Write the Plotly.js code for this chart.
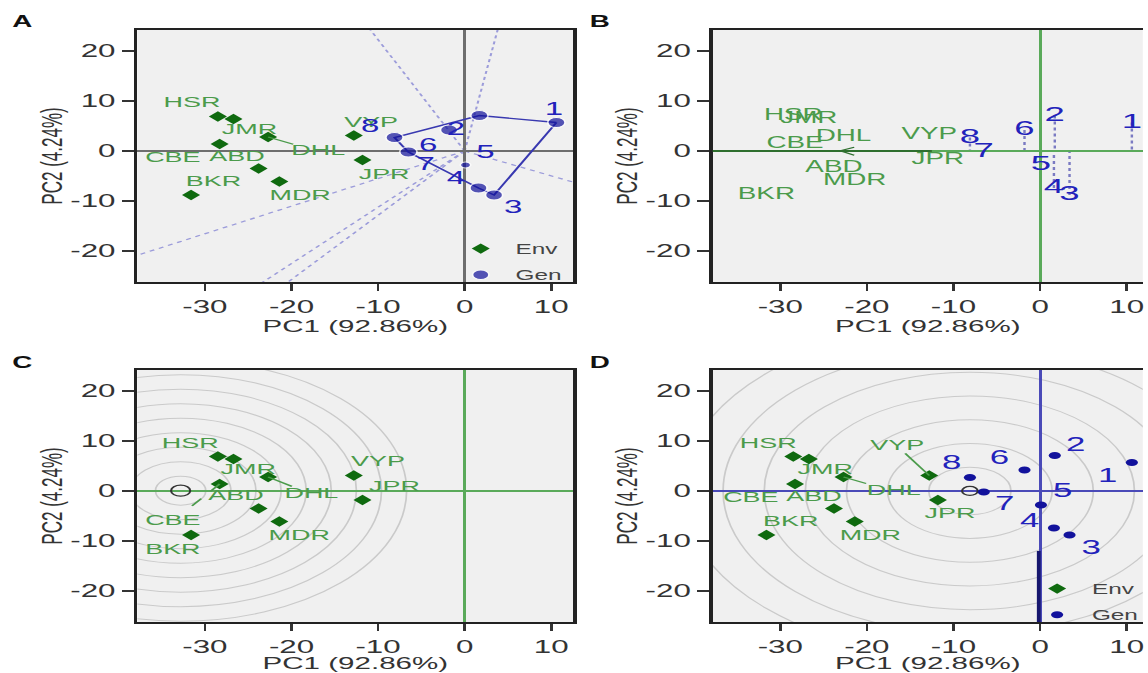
<!DOCTYPE html>
<html><head><meta charset="utf-8">
<script src="https://cdn.plot.ly/plotly-3.0.1.min.js"></script>
<style>
html,body{margin:0;padding:0;background:#fff;overflow:hidden}
#wrap{width:1148px;height:673px;overflow:hidden;position:relative}
#plot{width:660px;height:673px;transform:scaleX(1.739394);transform-origin:0 0}
</style></head>
<body><div id="wrap"><div id="plot"></div></div>
<script>
// ---------------- data ----------------
const envNames = ['HSR','JMR','CBE','DHL','ABD','MDR','BKR','VYP','JPR'];
const envPC1 = [-28.5,-26.7,-28.3,-22.7,-23.8,-21.4,-31.6,-12.8,-11.8];
const envPC2 = [6.9,6.4,1.4,2.8,-3.5,-6.1,-8.8,3.1,-1.8];
const genNames = ['1','2','3','4','5','6','7','8'];
const genPC1 = [10.6,1.7,3.4,1.6,0.1,-1.8,-6.5,-8.1];
const genPC2 = [5.7,7.1,-8.8,-7.4,-2.8,4.2,-0.2,2.7];
const hullOrder = ['1','2','8','7','4','3'];
const xTicks = [-30,-20,-10,0,10];
const xTickText = ['-30','-20','-10','0','10'];
const yTicks = [-20,-10,0,10,20];
const yTickText = ['-20','-10','0','10','20'];
const xTitle = 'PC1 (92.86%)';
const yTitle = 'PC2 (4.24%)';
const panelLetters = ['A','B','C','D'];
const legendNames = ['Env','Gen'];

// ---------------- style ----------------
const FONT = 'Liberation Sans, Arial, Helvetica, sans-serif';
const envMarkerColor = '#0f6a0f';
const envTextColor = '#4b9b4b';
const genMarkerColor = '#12129c';
const genTextColor = '#2222bb';
const FW = 1148, FH = 673;
const px = v => v / FW, py = v => 1 - v / FH;

// label offsets (data units) per panel
const envOffA = [[-3.0,2.6],[1.85,-2.3],[-5.4,-2.9],[5.8,-2.9],[-2.5,2.2],[2.4,-3.0],[2.6,2.5],[2.0,2.4],[2.5,-3.0]];
const genOffA = [[-0.3,2.5],[-2.7,-3.0],[2.2,-2.7],[-2.6,1.8],[2.3,2.3],[-2.4,-3.3],[2.0,-2.6],[-2.8,2.0]];
const envOffC = [[-3.2,2.5],[1.7,-2.3],[-5.4,-7.4],[5.0,-3.4],[-2.6,2.4],[2.3,-3.0],[-2.1,-3.0],[2.8,2.6],[3.7,2.5]];
const envOffD = [[-2.9,2.5],[1.9,-2.3],[-5.1,-2.9],[5.8,-2.9],[-2.3,2.2],[1.8,-3.0],[2.8,2.5],[-3.7,5.9],[1.4,-2.8]];
const genOffD = [[-2.8,-3.0],[2.4,1.9],[2.5,-2.9],[-2.8,1.1],[2.5,2.5],[-2.9,2.1],[2.4,-2.7],[-2.1,2.7]];
const genSizeA = [10,10,10,10,6,10,10,10];

const traces = [], shapes = [], annotations = [];

function addLabels(xa, ya, names, xs, ys, offs, size, color){
  traces.push({type:'scatter', mode:'text', xaxis:xa, yaxis:ya,
    x: xs.map((v,i)=>v + (offs ? offs[i][0] : 0)),
    y: ys.map((v,i)=>v + (offs ? offs[i][1] : 0)),
    text: names, textposition:'middle center',
    textfont:{family:FONT, size:size, color:color},
    cliponaxis:false, showlegend:false, hoverinfo:'skip'});
}
function addMarkers(xa, ya, xs, ys, marker, name, legend){
  const t = {type:'scatter', mode:'markers', xaxis:xa, yaxis:ya, x:xs, y:ys,
    marker:marker, name:name, showlegend:!!legend, hoverinfo:'skip', cliponaxis:false};
  if (legend){ t.legend = legend; t.legendgroup = name + legend; }
  traces.push(t);
}
function leader(xa, ya, i, offs, f, color, dash){
  shapes.push({type:'line', xref:xa, yref:ya, layer:'above',
    x0: envPC1[i], y0: envPC2[i],
    x1: envPC1[i] + f*offs[i][0], y1: envPC2[i] + f*offs[i][1],
    line:{color:color, width:1.3, dash:dash||'solid'}});
}
const envIdx = n => envNames.indexOf(n);
const genIdx = n => genNames.indexOf(n);

// ---------- Panel A : which-won-where ----------
(function(){
  const xa='x', ya='y';
  for (let k=0; k<hullOrder.length; k++){
    const a = genIdx(hullOrder[k]), b = genIdx(hullOrder[(k+1)%hullOrder.length]);
    const ax=genPC1[a], ay=genPC2[a], ex=genPC1[b]-ax, ey=genPC2[b]-ay;
    const t = -(ax*ex + ay*ey)/(ex*ex+ey*ey);
    const fx = ax + t*ex, fy = ay + t*ey, L = Math.hypot(fx,fy);
    shapes.push({type:'line', xref:xa, yref:ya, layer:'below', x0:0, y0:0,
      x1: fx/L*120, y1: fy/L*120, line:{color:'#9c9cda', width:1.2, dash:'dot'}});
  }
  const hx = hullOrder.map(n=>genPC1[genIdx(n)]), hy = hullOrder.map(n=>genPC2[genIdx(n)]);
  traces.push({type:'scatter', mode:'lines', xaxis:xa, yaxis:ya, x:hx.concat([hx[0]]), y:hy.concat([hy[0]]),
    line:{color:'#3939b0', width:1.4}, showlegend:false, hoverinfo:'skip'});
  leader(xa, ya, envIdx('DHL'), envOffA, 0.5, '#4b9b4b');
  addLabels(xa, ya, envNames, envPC1, envPC2, envOffA, 15.5, envTextColor);
  addMarkers(xa, ya, envPC1, envPC2, {symbol:'diamond', size:8, color:envMarkerColor}, legendNames[0], 'legend');
  addMarkers(xa, ya, genPC1, genPC2, {symbol:'circle', size:genSizeA, color:genMarkerColor}, legendNames[1], 'legend');
  addLabels(xa, ya, genNames, genPC1, genPC2, genOffA, 19, genTextColor);
})();

const envMeanX = envPC1.reduce((s,v)=>s+v,0)/envPC1.length;
const envMeanY = envPC2.reduce((s,v)=>s+v,0)/envPC2.length;
const aeaL = Math.hypot(envMeanX, envMeanY);
const aeaUx = envMeanX/aeaL, aeaUy = envMeanY/aeaL;

// ---------- Panel B : mean vs stability ----------
(function(){
  const xa='x2', ya='y2';
  genPC1.forEach((gx,i)=>{
    shapes.push({type:'line', xref:xa, yref:ya, layer:'below', x0:gx, y0:genPC2[i], x1:gx, y1:0,
      line:{color:'#7a7ac2', width:1.4, dash:'dot'}});
  });
  shapes.push({type:'line', xref:xa, yref:ya, layer:'above', x0:-40, y0:0, x1:-12.5, y1:0,
    line:{color:'#2f6f2f', width:2.2}});
  shapes.push({type:'path', xref:xa, yref:ya, layer:'above',
    path:`M ${envMeanX+1.6},${envMeanY+0.7} L ${envMeanX},${envMeanY} L ${envMeanX+1.6},${envMeanY-0.9}`,
    line:{color:'#2f6f2f', width:1.2}});
  addLabels(xa, ya, envNames, envPC1, envPC2, null, 16, envTextColor);
  addLabels(xa, ya, genNames, genPC1, genPC2, null, 21, genTextColor);
})();

// ---------- Panel C : ranking environments ----------
(function(){
  const xa='x3', ya='y3';
  const maxLen = Math.max(...envPC1.map((v,i)=>Math.hypot(v, envPC2[i])));
  const cx = aeaUx*maxLen, cy = aeaUy*maxLen;
  for (let k=1; k<=9; k++){
    const r = 2.9*k;
    shapes.push({type:'circle', xref:xa, yref:ya, layer:'below', x0:cx-r, x1:cx+r, y0:cy-r, y1:cy+r,
      line:{color:'#cacaca', width:1}});
  }
  leader(xa, ya, envIdx('DHL'), envOffC, 0.55, '#4b9b4b');
  leader(xa, ya, envIdx('CBE'), envOffC, 0.72, '#4b9b4b', 'dash');
  addLabels(xa, ya, envNames, envPC1, envPC2, envOffC, 15.5, envTextColor);
  addMarkers(xa, ya, [cx], [cy], {symbol:'circle-open', size:11, color:'#333', line:{width:1.2, color:'#333'}}, 'ideal', null);
  addMarkers(xa, ya, envPC1, envPC2, {symbol:'diamond', size:8, color:envMarkerColor}, 'EnvC', null);
})();

// ---------- Panel D : ranking genotypes ----------
(function(){
  const xa='x4', ya='y4';
  const proj = genPC1.map((v,i)=>v*aeaUx + genPC2[i]*aeaUy);
  const pm = Math.max(...proj);
  const cx = aeaUx*pm, cy = aeaUy*pm;
  for (let k=1; k<=7; k++){
    const r = 4.75*k;
    shapes.push({type:'circle', xref:xa, yref:ya, layer:'below', x0:cx-r, x1:cx+r, y0:cy-r, y1:cy+r,
      line:{color:'#cacaca', width:1}});
  }
  shapes.push({type:'line', xref:xa, yref:ya, layer:'above', x0:-0.15, y0:-12, x1:-0.15, y1:-40,
    line:{color:'#16166e', width:2.2}});
  leader(xa, ya, envIdx('DHL'), envOffD, 0.45, '#4b9b4b');
  leader(xa, ya, envIdx('VYP'), envOffD, 0.75, '#4b9b4b');
  addLabels(xa, ya, envNames, envPC1, envPC2, envOffD, 15.5, envTextColor);
  addLabels(xa, ya, genNames, genPC1, genPC2, genOffD, 20, genTextColor);
  addMarkers(xa, ya, [cx], [cy], {symbol:'circle-open', size:9, color:'#333', line:{width:1.2, color:'#333'}}, 'idealG', null);
  addMarkers(xa, ya, envPC1, envPC2, {symbol:'diamond', size:8, color:envMarkerColor}, legendNames[0], 'legend2');
  addMarkers(xa, ya, genPC1, genPC2, {symbol:'circle', size:7, color:genMarkerColor}, legendNames[1], 'legend2');
})();

// ---------- axes ----------
function xAxis(dom, range, anchor, zc){
  return {domain:[px(dom[0]), px(dom[1])], range:range, anchor:anchor,
    tickmode:'array', tickvals:xTicks, ticktext:xTickText,
    ticks:'outside', ticklen:7, tickwidth:1.5, tickcolor:'#333',
    showline:true, linecolor:'#222', linewidth:2, mirror:true, showgrid:false,
    zeroline:true, zerolinecolor:zc, zerolinewidth:1.8,
    tickfont:{family:FONT, size:18, color:'#333'},
    title:{text:xTitle, font:{family:FONT, size:17, color:'#333'}, standoff:5}, fixedrange:true};
}
function yAxis(dom, range, anchor, zc, mirror){
  return {domain:[py(dom[1]), py(dom[0])], range:range, anchor:anchor,
    tickmode:'array', tickvals:yTicks, ticktext:yTickText,
    ticks:'outside', ticklen:7, tickwidth:1.5, tickcolor:'#333',
    showline:true, linecolor:'#222', linewidth:2, mirror:mirror, showgrid:false,
    zeroline:true, zerolinecolor:zc, zerolinewidth:1.8,
    tickfont:{family:FONT, size:18, color:'#333'},
    title:{text:yTitle, font:{family:FONT, size:17, color:'#333'}, standoff:0}, fixedrange:true};
}
const xrL = [-37.8, 12.56], xrR = [-37.8, 11.86], yr = [-26.2, 24.2];
const gA = '#6e6e6e', gG = '#5aaa5a', gB = '#4a4ab8';

panelLetters.forEach((L,i)=>{
  annotations.push({xref:'paper', yref:'paper', x:px(i%2 ? 602 : 22), y:py(i<2 ? 22 : 362),
    text:'<b>'+L+'</b>', showarrow:false, xanchor:'center', yanchor:'middle',
    font:{family:FONT, size:16, color:'#111'}});
});

const legendStyle = {bgcolor:'rgba(0,0,0,0)', font:{family:FONT, size:14, color:'#444'},
  tracegroupgap:5, itemwidth:30, xanchor:'left', yanchor:'top', traceorder:'grouped'};

const layout = {
  width:660, height:673, margin:{l:0, r:0, t:0, b:0},
  paper_bgcolor:'#ffffff', plot_bgcolor:'#f0f0f0',
  xaxis:  xAxis([138,576], xrL, 'y', gA),
  yaxis:  yAxis([30,282], yr, 'x', gA, true),
  xaxis2: xAxis([716,1148], xrR, 'y2', gG),
  yaxis2: yAxis([30,282], yr, 'x2', gG, false),
  xaxis3: xAxis([138,576], xrL, 'y3', gG),
  yaxis3: yAxis([370,622], yr, 'x3', gG, true),
  xaxis4: xAxis([716,1148], xrR, 'y4', gB),
  yaxis4: yAxis([370,622], yr, 'x4', gB, false),
  legend:  Object.assign({x:px(448), y:py(233)}, legendStyle),
  legend2: Object.assign({x:px(1027), y:py(573)}, legendStyle),
  shapes:shapes, annotations:annotations, showlegend:true
};

Plotly.newPlot('plot', traces, layout, {staticPlot:true, displayModeBar:false});
</script>
</body></html>
